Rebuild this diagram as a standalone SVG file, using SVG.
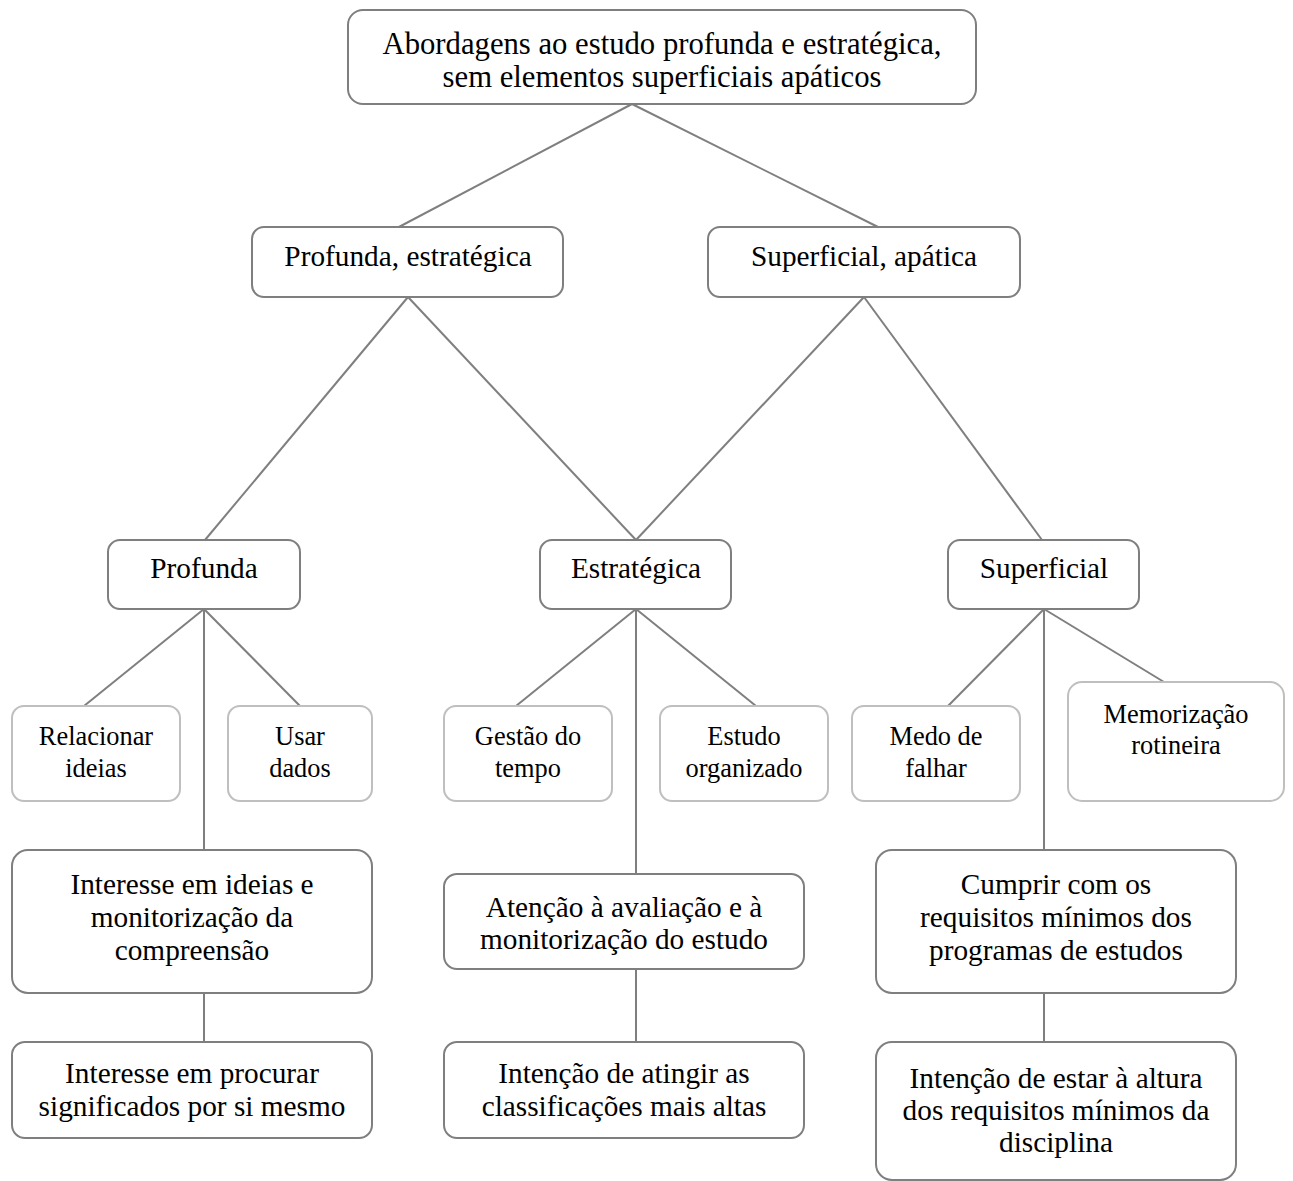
<svg xmlns="http://www.w3.org/2000/svg" width="1293" height="1181" viewBox="0 0 1293 1181">
<style>
.m{fill:#fff;stroke:#7f7f7f;stroke-width:2}
.l{fill:#fff;stroke:#bfbfbf;stroke-width:2}
.t{font-family:"Liberation Serif","Times New Roman",serif;font-size:29.3px;fill:#000;text-anchor:middle}
.r{font-size:30.7px}
.s{font-family:"Liberation Serif","Times New Roman",serif;font-size:26.4px;fill:#000;text-anchor:middle}
.c line{stroke:#7f7f7f;stroke-width:2}
</style>
<rect width="1293" height="1181" fill="#fff"/>
<g class="c" id="connectors">
<line x1="632" y1="104" x2="397" y2="228"/>
<line x1="632" y1="104" x2="880" y2="228"/>
<line x1="408" y1="297" x2="205" y2="540"/>
<line x1="408" y1="297" x2="636" y2="540"/>
<line x1="864" y1="297" x2="636" y2="540"/>
<line x1="864" y1="297" x2="1042" y2="540"/>
<line x1="204" y1="609" x2="84" y2="706"/>
<line x1="204" y1="609" x2="300" y2="706"/>
<line x1="204" y1="609" x2="204" y2="850"/>
<line x1="636" y1="609" x2="516" y2="706"/>
<line x1="636" y1="609" x2="756" y2="706"/>
<line x1="636" y1="609" x2="636" y2="874"/>
<line x1="1044" y1="609" x2="948" y2="706"/>
<line x1="1044" y1="609" x2="1164" y2="682"/>
<line x1="1044" y1="609" x2="1044" y2="850"/>
<line x1="204" y1="993" x2="204" y2="1042"/>
<line x1="636" y1="969" x2="636" y2="1042"/>
<line x1="1044" y1="993" x2="1044" y2="1042"/>
</g>
<g id="root"><rect class="m" x="348" y="10" width="628" height="94" rx="15"/>
<text class="t r" x="662" y="54">Abordagens ao estudo profunda e estratégica,</text>
<text class="t r" x="662" y="87">sem elementos superficiais apáticos</text></g>
<g id="profunda-estrategica"><rect class="m" x="252" y="227" width="311" height="70" rx="12"/>
<text class="t" x="408" y="266">Profunda, estratégica</text></g>
<g id="superficial-apatica"><rect class="m" x="708" y="227" width="312" height="70" rx="12"/>
<text class="t" x="864" y="266">Superficial, apática</text></g>
<g id="profunda"><rect class="m" x="108" y="540" width="192" height="69" rx="12"/>
<text class="t" x="204" y="578">Profunda</text></g>
<g id="estrategica"><rect class="m" x="540" y="540" width="191" height="69" rx="12"/>
<text class="t" x="636" y="578">Estratégica</text></g>
<g id="superficial"><rect class="m" x="948" y="540" width="191" height="69" rx="12"/>
<text class="t" x="1044" y="578">Superficial</text></g>
<g id="relacionar"><rect class="l" x="12" y="706" width="168" height="95" rx="12"/>
<text class="s" x="96" y="745">Relacionar</text><text class="s" x="96" y="777">ideias</text></g>
<g id="usar"><rect class="l" x="228" y="706" width="144" height="95" rx="12"/>
<text class="s" x="300" y="745">Usar</text><text class="s" x="300" y="777">dados</text></g>
<g id="gestao"><rect class="l" x="444" y="706" width="168" height="95" rx="12"/>
<text class="s" x="528" y="745">Gestão do</text><text class="s" x="528" y="777">tempo</text></g>
<g id="estudo"><rect class="l" x="660" y="706" width="168" height="95" rx="12"/>
<text class="s" x="744" y="745">Estudo</text><text class="s" x="744" y="777">organizado</text></g>
<g id="medo"><rect class="l" x="852" y="706" width="168" height="95" rx="12"/>
<text class="s" x="936" y="745">Medo de</text><text class="s" x="936" y="777">falhar</text></g>
<g id="memorizacao"><rect class="l" x="1068" y="682" width="216" height="119" rx="14"/>
<text class="s" x="1176" y="723">Memorização</text><text class="s" x="1176" y="754">rotineira</text></g>
<g id="interesse-ideias"><rect class="m" x="12" y="850" width="360" height="143" rx="16"/>
<text class="t" x="192" y="894">Interesse em ideias e</text>
<text class="t" x="192" y="927">monitorização da</text>
<text class="t" x="192" y="960">compreensão</text></g>
<g id="interesse-procurar"><rect class="m" x="12" y="1042" width="360" height="96" rx="13"/>
<text class="t" x="192" y="1083">Interesse em procurar</text>
<text class="t" x="192" y="1116">significados por si mesmo</text></g>
<g id="atencao"><rect class="m" x="444" y="874" width="360" height="95" rx="13"/>
<text class="t" x="624" y="917">Atenção à avaliação e à</text>
<text class="t" x="624" y="949">monitorização do estudo</text></g>
<g id="intencao-atingir"><rect class="m" x="444" y="1042" width="360" height="96" rx="13"/>
<text class="t" x="624" y="1083">Intenção de atingir as</text>
<text class="t" x="624" y="1116">classificações mais altas</text></g>
<g id="cumprir"><rect class="m" x="876" y="850" width="360" height="143" rx="16"/>
<text class="t" x="1056" y="894">Cumprir com os</text>
<text class="t" x="1056" y="927">requisitos mínimos dos</text>
<text class="t" x="1056" y="960">programas de estudos</text></g>
<g id="intencao-estar"><rect class="m" x="876" y="1042" width="360" height="138" rx="16"/>
<text class="t" x="1056" y="1088">Intenção de estar à altura</text>
<text class="t" x="1056" y="1120">dos requisitos mínimos da</text>
<text class="t" x="1056" y="1152">disciplina</text></g>
</svg>
